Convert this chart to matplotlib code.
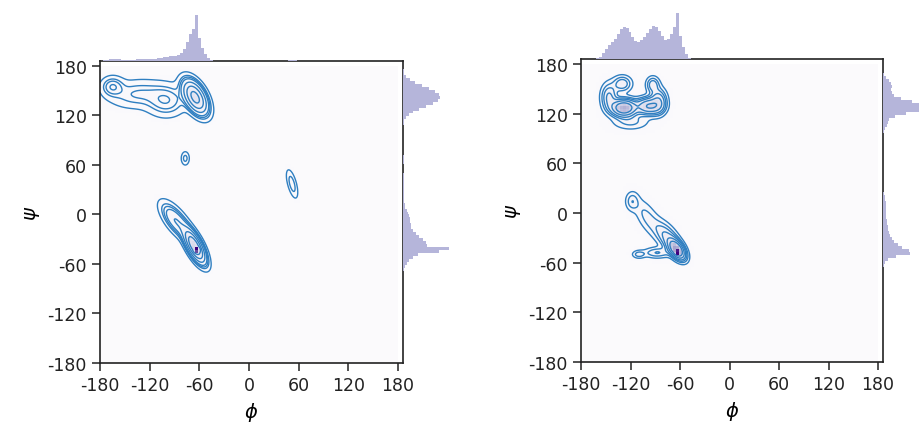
import numpy as np
import matplotlib.pyplot as plt

ticks = [-180, -120, -60, 0, 60, 120, 180]
tick_labels = ['-180', '-120', '-60', '0', '60', '120', '180']

# density components: phi, psi, sd_phi, sd_psi, corr, weight
left_phi = [-65, -100, -135, -165, -77, 52, -66, -88, -63]
left_psi = [142, 138, 146, 155, 68, 37, -38, -8, -43]
left_sd_phi = [8, 14, 20, 8, 3, 4, 7, 10, 1.5]
left_sd_psi = [11, 11, 10, 7, 5, 10, 11, 12, 1.5]
left_corr = [-0.5, 0.0, 0.1, 0.0, 0.0, -0.6, -0.7, -0.7, 0.0]
left_weight = [0.28, 0.07, 0.065, 0.025, 0.004, 0.01, 0.26, 0.08, 0.06]

right_phi = [-128, -98, -86, -130, -93, -146, -120, -64, -75, -100, -118, -110, -88, -63]
right_psi = [127, 129, 135, 156, 155, 140, 110, -44, -30, -5, 14, -50, -48, -47]
right_sd_phi = [9, 9, 6, 7, 5, 6, 14, 6, 10, 10, 5, 5, 10, 1.5]
right_sd_psi = [6, 6, 9, 6, 6, 10, 6, 7, 12, 14, 7, 3, 4, 1.5]
right_corr = [0.0, 0.0, 0.0, 0.0, 0.0, 0.0, 0.0, -0.5, -0.6, -0.6, 0.0, 0.0, 0.0, 0.0]
right_weight = [0.18, 0.11, 0.06, 0.03, 0.02, 0.05, 0.03, 0.13, 0.08, 0.04, 0.015, 0.006, 0.02, 0.02]

line_color = '#2f7fc1'
hist_color = '#b5b5da'


def mixture(x, y, phi, psi, sphi, spsi, corr, weight):
    z = np.zeros_like(x)
    for m1, m2, s1, s2, r, w in zip(phi, psi, sphi, spsi, corr, weight):
        u = (x - m1) / s1
        v = (y - m2) / s2
        q = (u * u - 2 * r * u * v + v * v) / (1 - r * r)
        z += w * np.exp(-0.5 * q) / (2 * np.pi * s1 * s2 * np.sqrt(1 - r * r))
    return z


def hdr_levels(z, props):
    flat = np.sort(z.ravel())[::-1]
    cum = np.cumsum(flat)
    cum /= cum[-1]
    return sorted(set(flat[np.searchsorted(cum, p)] for p in props))


def draw_panel(fig, rect, comps, props):
    x0, y0, w, h = rect
    mw = 47 / 919
    mh = 47 / 427
    ax = fig.add_axes([x0, y0, w, h])
    ax_top = fig.add_axes([x0, y0 + h, w, mh], sharex=ax)
    ax_right = fig.add_axes([x0 + w, y0, mw, h], sharey=ax)

    edges = np.linspace(-180, 180, 101)
    centers = (edges[:-1] + edges[1:]) / 2
    X, Y = np.meshgrid(centers, centers)
    H = mixture(X, Y, *comps)
    ax.pcolormesh(edges, edges, H, cmap='Purples', shading='flat',
                  vmin=-H.max() * 0.015, vmax=H.max())

    fine = np.arange(-180, 186.1, 1.0)
    FX, FY = np.meshgrid(fine, fine)
    Z = mixture(FX, FY, *comps)
    ax.contour(FX, FY, Z, levels=hdr_levels(Z, props), colors=line_color,
               linewidths=1.0)

    top_h = H.sum(axis=0)
    right_h = H.sum(axis=1)
    ax_top.bar(centers, top_h, width=3.6, color=hist_color, linewidth=0)
    ax_right.barh(centers, right_h, height=3.6, color=hist_color, linewidth=0)
    ax_top.set_ylim(0, top_h.max() * 1.02)
    ax_right.set_xlim(0, right_h.max() * 1.02)
    for m in (ax_top, ax_right):
        m.axis('off')

    ax.set_xlim(-180, 186)
    ax.set_ylim(-180, 186)
    ax.set_xticks(ticks)
    ax.set_xticklabels(tick_labels)
    ax.set_yticks(ticks)
    ax.set_yticklabels(tick_labels)
    ax.tick_params(labelsize=12.5, length=6, width=1.1, colors='#222222')
    for s in ax.spines.values():
        s.set_linewidth(1.2)
        s.set_color('#222222')
    ax.set_xlabel(r'$\phi$', fontsize=14)
    ax.set_ylabel(r'$\psi$', fontsize=14)


fig = plt.figure(figsize=(9.19, 4.27), dpi=100)
draw_panel(fig, [100 / 919, 1 - 364 / 427, 303 / 919, 302 / 427],
           (left_phi, left_psi, left_sd_phi, left_sd_psi, left_corr, left_weight),
           [0.25, 0.45, 0.6, 0.72, 0.82, 0.9, 0.97])
draw_panel(fig, [581 / 919, 1 - 363 / 427, 302 / 919, 303 / 427],
           (right_phi, right_psi, right_sd_phi, right_sd_psi, right_corr, right_weight),
           [0.25, 0.45, 0.6, 0.72, 0.85, 0.95])
fig.savefig('out.png', dpi=100)
